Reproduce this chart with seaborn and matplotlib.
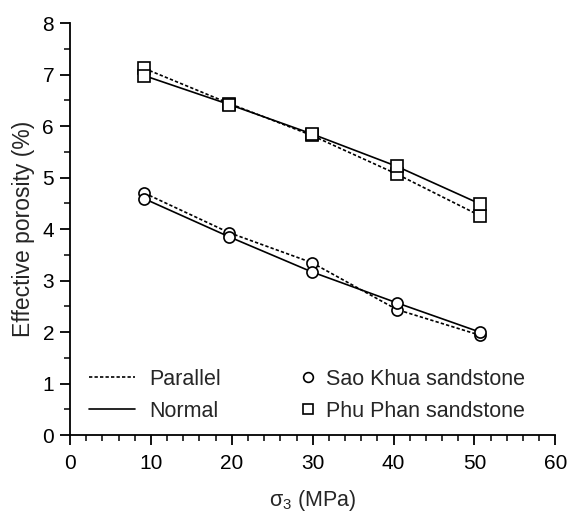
import matplotlib
matplotlib.use("Agg")
import matplotlib.pyplot as plt
import matplotlib.ticker as mtick
from matplotlib.lines import Line2D
import pandas as pd
import seaborn as sns

sns.set_style("ticks")
plt.rcParams['font.family'] = ['Liberation Sans', 'DejaVu Sans']
plt.rcParams['mathtext.default'] = 'regular'

# confining pressure (MPa)
sigma3 = [9.2, 19.7, 29.9, 40.4, 50.7]

# effective porosity (%)
sao_khua_parallel = [4.70, 3.93, 3.35, 2.44, 1.94]
sao_khua_normal = [4.59, 3.85, 3.17, 2.57, 2.00]
phu_phan_parallel = [7.12, 6.44, 5.82, 5.07, 4.26]
phu_phan_normal = [6.98, 6.42, 5.85, 5.22, 4.49]

rows = []
for rock, orient, vals in [
    ("Sao Khua sandstone", "Parallel", sao_khua_parallel),
    ("Sao Khua sandstone", "Normal", sao_khua_normal),
    ("Phu Phan sandstone", "Parallel", phu_phan_parallel),
    ("Phu Phan sandstone", "Normal", phu_phan_normal),
]:
    for x, y in zip(sigma3, vals):
        rows.append({"rock": rock, "orient": orient, "sigma3": x, "porosity": y})
df = pd.DataFrame(rows)

markers = {"Sao Khua sandstone": "o", "Phu Phan sandstone": "s"}
dashes = {"Parallel": (2, 1.3), "Normal": ""}

fig = plt.figure(figsize=(5.67, 5.15), dpi=100)
ax = fig.add_axes([0.1235, 0.155, 0.856, 0.80])

for (rock, orient), sub in df.groupby(["rock", "orient"], sort=False):
    sns.lineplot(data=sub, x="sigma3", y="porosity", ax=ax, color="black",
                 linewidth=1.2, dashes=False, marker=markers[rock],
                 markersize=8, markerfacecolor="white", markeredgecolor="black",
                 markeredgewidth=1.2, legend=False)
    ln = ax.lines[-1]
    if dashes[orient]:
        ln.set_dashes(dashes[orient])

ax.set_xlim(0, 60)
ax.set_ylim(0, 8)
ax.xaxis.set_major_locator(mtick.MultipleLocator(10))
ax.xaxis.set_minor_locator(mtick.MultipleLocator(2))
ax.yaxis.set_major_locator(mtick.MultipleLocator(1))
ax.yaxis.set_minor_locator(mtick.MultipleLocator(0.5))
ax.tick_params(which="major", direction="out", length=7, width=1.3,
               labelsize=15, colors="black")
ax.tick_params(axis="x", which="major", pad=6.5)
ax.tick_params(axis="y", which="major", pad=4.5)
ax.tick_params(which="minor", direction="out", length=4, width=1.3)
for s in ["left", "bottom"]:
    ax.spines[s].set_linewidth(1.3)
    ax.spines[s].set_color("black")
sns.despine(ax=ax)

ax.set_xlabel("σ$_3$ (MPa)", fontsize=15.5, labelpad=11)
ax.set_ylabel("Effective porosity (%)", fontsize=16.5, labelpad=5)

line_handles = [
    Line2D([], [], color="black", linewidth=1.2, dashes=(2, 1.3), label="Parallel"),
    Line2D([], [], color="black", linewidth=1.2, label="Normal"),
]
leg1 = ax.legend(handles=line_handles, loc="lower left",
                 bbox_to_anchor=(0.0, -0.014), frameon=False, fontsize=15.5,
                 handlelength=2.1, handletextpad=0.7, labelspacing=0.5)
ax.add_artist(leg1)

marker_handles = [
    Line2D([], [], linestyle="none", marker="o", markersize=7,
           markerfacecolor="white", markeredgecolor="black",
           markeredgewidth=1.2, label="Sao Khua sandstone"),
    Line2D([], [], linestyle="none", marker="s", markersize=7,
           markerfacecolor="white", markeredgecolor="black",
           markeredgewidth=1.2, label="Phu Phan sandstone"),
]
ax.legend(handles=marker_handles, loc="lower left",
          bbox_to_anchor=(0.429, -0.014), frameon=False, fontsize=15.5,
          handlelength=1.0, handletextpad=0.3, labelspacing=0.5)

fig.savefig("out.png", dpi=100)
